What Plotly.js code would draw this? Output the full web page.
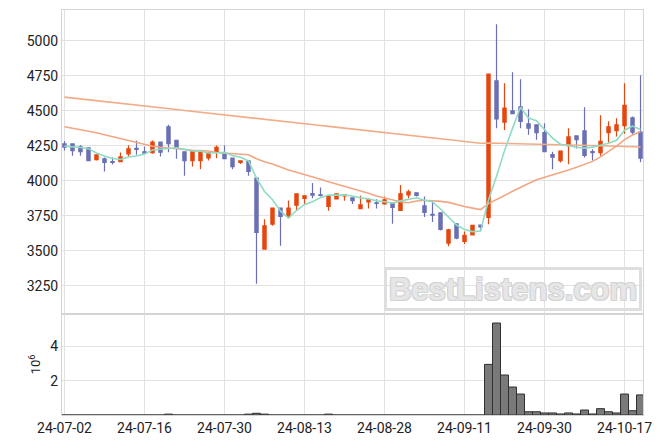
<!DOCTYPE html>
<html>
<head>
<meta charset="utf-8">
<script src="https://cdn.plot.ly/plotly-3.0.1.min.js"></script>
<style>html,body{margin:0;padding:0;background:#fff;}#chart{width:663px;height:444px;}</style>
</head>
<body>
<div id="chart"></div>
<script>
const dates = ['24-07-02','24-07-03','24-07-04','24-07-05','24-07-08','24-07-09','24-07-10','24-07-11','24-07-12','24-07-15',
'24-07-16','24-07-17','24-07-18','24-07-19','24-07-22','24-07-23','24-07-24','24-07-25','24-07-26','24-07-29',
'24-07-30','24-07-31','24-08-01','24-08-02','24-08-05','24-08-06','24-08-07','24-08-08','24-08-09','24-08-12',
'24-08-13','24-08-14','24-08-16','24-08-19','24-08-20','24-08-21','24-08-22','24-08-23','24-08-26','24-08-27',
'24-08-28','24-08-29','24-08-30','24-09-02','24-09-03','24-09-04','24-09-05','24-09-06','24-09-09','24-09-10',
'24-09-11','24-09-12','24-09-13','24-09-19','24-09-20','24-09-23','24-09-24','24-09-25','24-09-26','24-09-27',
'24-09-30','24-10-02','24-10-04','24-10-07','24-10-08','24-10-10','24-10-11','24-10-14','24-10-15','24-10-16',
'24-10-17','24-10-18','24-10-21'];

const openP = [4264,4264,4243,4236,4152,4157,4138,4138,4193,4233,
4207,4202,4276,4386,4290,4207,4145,4145,4164,4205,
4200,4162,4131,4143,4019,3512,3691,3805,3745,3826,
3874,3909,3900,3817,3871,3893,3879,3802,3850,3843,
3836,3845,3788,3900,3914,3821,3760,3771,3555,3693,
3567,3614,3683,3738,4714,4419,4500,4529,4407,4400,
4345,4188,4145,4252,4321,4357,4209,4202,4345,4359,
4395,4450,4348];

const highP = [4284,4266,4255,4238,4186,4166,4169,4202,4255,4288,
4245,4288,4278,4400,4292,4209,4214,4204,4204,4252,
4252,4164,4145,4145,4021,3726,3807,3807,3859,3909,
3895,3984,3952,3897,3909,3902,3881,3893,3869,3869,
3888,3848,3971,3936,3916,3888,3848,3773,3657,3695,
3638,3683,3685,4764,5119,4698,4776,4726,4512,4402,
4412,4207,4214,4376,4323,4526,4226,4469,4426,4448,
4698,4460,4755];

const lowP = [4216,4179,4179,4143,4145,4066,4116,4136,4174,4186,
4190,4193,4174,4205,4157,4036,4102,4083,4145,4162,
4157,4083,4121,4036,3264,3507,3679,3536,3743,3786,
3829,3876,3888,3786,3867,3857,3834,3800,3802,3802,
3829,3693,3786,3876,3888,3741,3705,3645,3533,3583,
3548,3610,3643,3690,4376,4364,4479,4376,4329,4293,
4207,4083,4131,4119,4231,4166,4145,4179,4274,4317,
4336,4329,4133];

const closeP = [4241,4216,4209,4145,4186,4131,4131,4171,4229,4224,
4198,4276,4205,4266,4233,4145,4214,4202,4202,4240,
4159,4102,4143,4067,3631,3679,3805,3745,3805,3907,
3893,3898,3895,3895,3907,3900,3859,3829,3864,3838,
3864,3810,3907,3921,3895,3774,3755,3652,3650,3591,
3610,3681,3671,4762,4443,4519,4481,4424,4376,4345,
4209,4169,4212,4314,4295,4181,4202,4283,4386,4400,
4540,4348,4162];

const ma5 = [4248,4244,4238,4230,4199,4177,4160,4153,4170,4177,
4191,4220,4226,4234,4236,4225,4213,4212,4199,4201,
4203,4181,4169,4142,4020,3924,3865,3785,3733,3788,
3831,3850,3880,3898,3898,3899,3891,3878,3872,3858,
3851,3841,3857,3868,3879,3861,3850,3799,3745,3684,
3652,3637,3641,3863,4033,4215,4375,4526,4449,4429,
4367,4305,4262,4250,4240,4234,4241,4255,4269,4290,
4362,4391,4367];

const ma20 = [4387,4377,4367,4356,4344,4330,4316,4301,4287,4274,
4260,4247,4240,4234,4228,4221,4219,4216,4213,4203,
4199,4193,4190,4186,4158,4136,4120,4098,4077,4061,
4046,4027,4012,3993,3977,3964,3947,3928,3911,3891,
3876,3862,3850,3843,3856,3861,3858,3853,3846,3830,
3816,3805,3794,3837,3864,3895,3926,3956,3981,4007,
4024,4042,4057,4077,4097,4117,4139,4171,4208,4248,
4295,4328,4353];

const ma120 = [4598,4592,4586,4579,4573,4567,4560,4554,4548,4541,
4535,4529,4522,4516,4510,4503,4497,4491,4484,4478,
4472,4465,4459,4453,4446,4440,4434,4427,4421,4415,
4408,4402,4396,4389,4383,4377,4370,4364,4357,4351,
4345,4338,4332,4326,4319,4313,4307,4300,4294,4288,
4281,4275,4269,4270,4269,4268,4266,4265,4264,4262,
4261,4260,4258,4257,4255,4254,4252,4251,4249,4247,
4245,4243,4242];

// volume in millions of shares
const volume = [0,0,0,0,0,0,0,0,0,0,
0,0,0,0.05,0,0,0,0,0,0,
0,0,0,0.05,0.1,0.05,0,0,0,0,
0,0,0,0.05,0,0,0,0,0,0,
0,0,0,0,0,0,0,0,0,0,
0,0,0,2.95,5.36,2.33,1.63,1.22,0.19,0.19,
0.12,0.12,0.06,0.12,0.06,0.29,0.06,0.37,0.19,0.12,
1.22,0.25,1.17];

const xTickLabels = ['24-07-02','24-07-16','24-07-30','24-08-13','24-08-28','24-09-11','24-09-30','24-10-17'];
const priceTicks = [3250,3500,3750,4000,4250,4500,4750,5000];
const volTicks = [2,4];

const UP = '#e6460f', DOWN = '#6b6fb4';
const GRID = '#e2e2e2', LINE = '#d4d4d4';

const traces = [
  {type:'candlestick', x:dates, open:openP, high:highP, low:lowP, close:closeP,
   xaxis:'x', yaxis:'y',
   increasing:{line:{color:UP, width:1.2}, fillcolor:UP},
   decreasing:{line:{color:DOWN, width:1.2}, fillcolor:DOWN},
   whiskerwidth:0, hoverinfo:'skip'},
  {type:'scatter', mode:'lines', x:dates, y:ma120, xaxis:'x', yaxis:'y',
   line:{color:'#f2ac88', width:1.6}, hoverinfo:'skip'},
  {type:'scatter', mode:'lines', x:dates, y:ma20, xaxis:'x', yaxis:'y',
   line:{color:'#f2a784', width:1.6}, hoverinfo:'skip'},
  {type:'scatter', mode:'lines', x:dates, y:ma5, xaxis:'x', yaxis:'y',
   line:{color:'#90dbc3', width:1.6}, hoverinfo:'skip'},
  {type:'bar', x:dates, y:volume, xaxis:'x', yaxis:'y2',
   marker:{color:'#7a7a7a', line:{color:'#303030', width:1}}, hoverinfo:'skip'}
];

const layout = {
  width:663, height:444,
  margin:{l:62, r:20, t:10, b:29, pad:0},
  paper_bgcolor:'#ffffff', plot_bgcolor:'#ffffff',
  showlegend:false,
  font:{family:'Roboto, "Liberation Sans", Arial, sans-serif', size:14, color:'#222222'},
  boxgap:0.42, bargap:0,
  xaxis:{type:'category', anchor:'y2', range:[-0.31, 72.31],
    tickmode:'array', tickvals:xTickLabels, ticktext:xTickLabels,
    showgrid:true, gridcolor:GRID, gridwidth:1,
    showline:true, mirror:'all', linecolor:LINE, linewidth:1,
    ticks:'', rangeslider:{visible:false}, fixedrange:true,
    tickfont:{size:14, color:'#222'}},
  yaxis:{domain:[0.25,1], range:[3050,5221], tickmode:'array', tickvals:priceTicks,
    showgrid:true, gridcolor:GRID, zeroline:false,
    showline:true, mirror:true, linecolor:LINE, linewidth:1, ticks:'',
    tickfont:{size:14, color:'#222'}},
  yaxis2:{domain:[0,0.25], range:[0,5.9], tickmode:'array', tickvals:volTicks, ticktext:['2','4'],
    showgrid:true, gridcolor:GRID, zeroline:false,
    showline:true, mirror:true, linecolor:LINE, linewidth:1, ticks:'',
    tickfont:{size:14, color:'#222'},
    title:{text:'10<sup>6</sup>', font:{size:13, color:'#222'}, standoff:6}},
  annotations:[{
    xref:'paper', yref:'paper', x:0.7754, y:0.3123, xanchor:'center', yanchor:'middle',
    text:'BestListens.com', showarrow:false,
    width:250, height:36, borderwidth:3, bordercolor:'#dedede', borderpad:1,
    font:{family:'"Liberation Sans", Arial, sans-serif', size:31, weight:700, color:'#e6e6e6',
      shadow:'-1px -1px 0 #d3d3d3, 1px -1px 0 #d3d3d3, -1px 1px 0 #d3d3d3, 1px 1px 0 #d3d3d3'}
  }]
};

Plotly.newPlot('chart', traces, layout, {staticPlot:true, displayModeBar:false});
</script>
</body>
</html>
